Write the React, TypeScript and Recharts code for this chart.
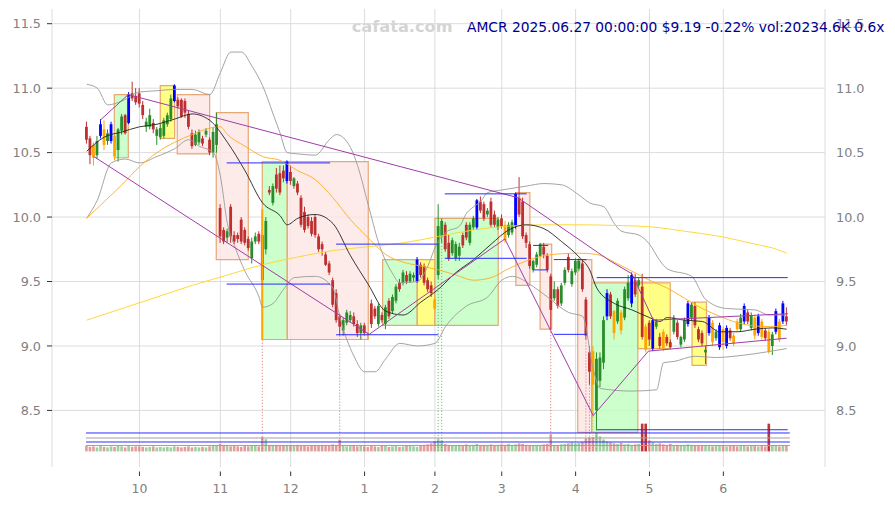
import React from 'react';
import { ComposedChart, Bar, Line, XAxis, YAxis, CartesianGrid, ReferenceArea, ReferenceLine } from 'recharts';

// ---------- data ----------
const open = [
  10.70,10.61,10.56,10.48,10.63,10.68,10.59,10.59,10.63,10.52,
  10.67,10.79,10.73,10.96,10.94,10.96,10.87,10.70,10.70,10.73,
  10.63,10.62,10.63,10.72,10.76,10.90,10.91,10.91,10.90,10.80,
  10.65,10.56,10.58,10.61,10.64,10.60,10.50,10.56,10.07,9.90,
  9.84,10.08,9.86,9.86,9.98,9.90,9.83,9.68,9.81,9.87,
  9.86,9.75,10.21,10.11,10.33,10.34,10.36,10.28,10.35,10.24,
  10.26,10.15,10.04,10.00,9.97,10.00,9.85,9.79,9.71,9.64,
  9.51,9.41,9.23,9.12,9.18,9.20,9.23,9.17,9.10,9.16,
  9.09,9.33,9.29,9.17,9.24,9.17,9.35,9.27,9.35,9.49,
  9.49,9.55,9.50,9.53,9.50,9.63,9.62,9.51,9.47,9.36,
  9.55,9.85,9.94,9.80,9.72,9.68,9.70,9.86,9.94,9.80,
  9.92,9.92,10.12,10.10,10.02,10.12,10.02,9.92,9.99,9.94,
  9.86,9.88,9.93,10.15,10.12,9.86,9.79,9.59,9.63,9.70,
  9.77,9.70,9.54,9.37,9.44,9.33,9.49,9.69,9.48,9.57,
  9.60,9.64,9.36,8.95,8.96,8.50,8.73,8.87,9.23,9.40,
  9.27,9.19,9.26,9.22,9.37,9.33,9.51,9.47,9.46,9.15,
  9.18,8.98,9.15,9.07,9.11,9.07,9.03,9.11,9.18,9.01,
  9.05,9.17,9.22,9.31,9.13,9.10,8.95,9.10,9.18,9.06,
  8.99,9.13,9.00,9.12,9.08,9.19,9.13,9.19,9.26,9.14,
  9.22,9.10,9.19,9.12,9.11,9.00,9.11,9.19,9.19,9.23,
];
const high = [
  10.74,10.63,10.58,10.63,10.76,10.75,10.68,10.74,10.64,10.69,
  10.80,10.80,10.97,11.05,11.00,11.00,10.90,10.77,10.84,10.76,
  10.70,10.72,10.77,10.81,10.95,11.03,10.93,10.92,10.92,10.83,
  10.68,10.67,10.68,10.63,10.69,10.62,10.70,10.81,10.10,9.92,
  9.91,10.10,9.89,9.88,10.00,9.92,9.85,9.84,9.88,9.89,
  9.89,10.00,10.24,10.26,10.38,10.40,10.40,10.44,10.40,10.31,
  10.28,10.17,10.08,10.02,10.00,10.02,9.87,9.81,9.73,9.66,
  9.53,9.44,9.25,9.22,9.28,9.27,9.26,9.20,9.18,9.18,
  9.11,9.36,9.31,9.33,9.26,9.32,9.37,9.40,9.48,9.52,
  9.59,9.58,9.58,9.57,9.69,9.65,9.64,9.53,9.50,9.37,
  10.10,9.99,9.96,9.86,9.84,9.81,9.80,9.88,9.96,9.96,
  10.01,10.14,10.16,10.12,10.07,10.15,10.05,10.00,10.02,9.97,
  9.96,9.98,10.19,10.31,10.15,9.88,9.81,9.67,9.73,9.80,
  9.80,9.72,9.56,9.50,9.46,9.49,9.61,9.72,9.60,9.68,
  9.68,9.67,9.38,9.00,9.00,8.95,8.95,9.23,9.44,9.42,
  9.28,9.37,9.28,9.46,9.55,9.57,9.56,9.53,9.56,9.17,
  9.20,9.22,9.21,9.10,9.13,9.09,9.05,9.24,9.20,9.08,
  9.22,9.35,9.34,9.34,9.15,9.12,9.00,9.24,9.20,9.13,
  9.18,9.15,9.16,9.14,9.10,9.21,9.25,9.33,9.28,9.26,
  9.24,9.25,9.21,9.14,9.13,9.11,9.29,9.21,9.35,9.30,
];
const low = [
  10.57,10.41,10.40,10.45,10.61,10.52,10.56,10.57,10.44,10.43,
  10.64,10.64,10.72,10.90,10.87,10.85,10.76,10.66,10.68,10.65,
  10.56,10.60,10.61,10.70,10.74,10.89,10.84,10.77,10.77,10.68,
  10.53,10.55,10.56,10.55,10.62,10.48,10.46,10.50,9.80,9.79,
  9.80,9.80,9.79,9.80,9.79,9.78,9.74,9.64,9.79,9.79,
  9.49,9.71,10.17,10.09,10.19,10.17,10.27,10.26,10.25,10.22,
  10.17,9.92,9.88,9.91,9.85,9.84,9.73,9.70,9.62,9.55,
  9.30,9.18,9.08,9.08,9.16,9.18,9.15,9.07,9.05,9.08,
  9.05,9.14,9.21,9.15,9.18,9.13,9.21,9.25,9.33,9.42,
  9.47,9.48,9.49,9.50,9.49,9.53,9.47,9.42,9.38,9.28,
  9.52,9.80,9.73,9.66,9.70,9.66,9.66,9.76,9.82,9.78,
  9.90,9.90,10.03,9.97,10.00,9.92,9.92,9.90,9.91,9.80,
  9.84,9.86,9.91,10.00,9.83,9.76,9.60,9.57,9.61,9.69,
  9.68,9.57,9.13,9.35,9.29,9.31,9.47,9.57,9.46,9.55,
  9.58,9.42,9.05,8.70,8.45,8.35,8.68,8.82,9.20,9.21,
  9.05,9.17,9.09,9.20,9.35,9.30,9.38,9.45,9.05,8.95,
  9.00,8.96,9.13,8.98,8.96,9.00,8.98,9.09,9.05,8.99,
  9.03,9.15,9.20,9.14,9.03,9.00,8.86,9.08,9.00,9.04,
  8.97,8.97,8.98,9.04,9.00,9.11,9.11,9.17,9.17,9.12,
  9.05,9.08,9.05,9.04,8.94,8.93,9.09,9.03,9.17,9.16,
];
const close = [
  10.60,10.48,10.46,10.59,10.72,10.56,10.65,10.72,10.47,10.68,
  10.78,10.65,10.95,10.92,10.89,10.88,10.79,10.74,10.79,10.68,
  10.68,10.69,10.75,10.79,10.92,11.02,10.86,10.78,10.81,10.70,
  10.55,10.64,10.66,10.57,10.67,10.50,10.66,10.72,9.85,9.81,
  9.89,9.85,9.81,9.83,9.81,9.80,9.76,9.81,9.85,9.81,
  9.51,9.97,10.19,10.24,10.22,10.19,10.30,10.43,10.28,10.30,
  10.19,9.94,9.90,9.93,9.87,9.86,9.75,9.75,9.63,9.57,
  9.32,9.20,9.15,9.20,9.26,9.24,9.17,9.10,9.16,9.10,
  9.08,9.17,9.23,9.31,9.20,9.30,9.23,9.38,9.46,9.44,
  9.57,9.50,9.56,9.55,9.67,9.55,9.49,9.44,9.41,9.29,
  9.93,9.97,9.75,9.68,9.82,9.79,9.77,9.78,9.84,9.94,
  9.99,10.13,10.05,9.99,10.05,9.94,9.94,9.98,9.93,9.82,
  9.94,9.96,10.18,10.02,9.85,9.80,9.62,9.66,9.71,9.79,
  9.71,9.59,9.28,9.44,9.31,9.47,9.59,9.59,9.58,9.66,
  9.66,9.44,9.08,8.80,8.70,8.90,8.91,9.20,9.41,9.23,
  9.10,9.35,9.12,9.44,9.49,9.55,9.40,9.51,9.07,8.97,
  9.05,9.20,9.19,9.00,8.98,9.02,8.99,9.22,9.07,9.07,
  9.20,9.33,9.32,9.16,9.05,9.02,8.97,9.22,9.03,9.11,
  9.16,9.03,9.14,9.06,9.02,9.13,9.22,9.31,9.19,9.24,
  9.08,9.23,9.07,9.06,8.96,9.09,9.27,9.05,9.33,9.19,
];
// r = down, g = up, b = blue signal, o = orange signal
const candleKind = (
  'rrogbogbog' + 'grbrrrrggr' + 'gggggbrrrr' + 'rggrgrggrr' + 'grrrrrrggr' +
  'rgrgrrrbrg' + 'rrrrrrrrrr' + 'rrrgggrrgr' + 'orrgrgrggr' + 'grggbrrrro' +
  'ggrrgggrrg' + 'gbrrgrrgro' + 'ggbrrrrggg' + 'rrrgrggrgg' + 'grrrogggbr' +
  'ogoggbrgro' + 'rbgrorrgrg' + 'gbgrrrgbog' + 'bobroogbrg' + 'oborogbobr'
).split('');
// volume, millions of shares
const volume = [
  22,18,20,16,22,18,16,20,18,22,20,16,24,18,20,
  20,18,16,18,20,16,18,16,18,16,20,18,16,18,20,16,18,16,18,16,20,22,24,
  30,26,22,20,22,20,18,22,20,24,22,20,57,49,26,24,26,22,24,26,
  22,24,26,22,24,20,22,24,22,26,22,24,28,26,47,22,20,24,22,20,22,
  20,18,22,20,18,24,22,18,20,22,18,20,24,22,20,18,24,26,28,32,
  40,49,44,30,26,24,22,26,24,28,22,26,30,24,26,22,28,24,26,
  28,26,30,24,28,32,30,26,24,22,26,24,28,30,67,26,24,28,30,32,36,
  32,34,38,52,56,58,73,60,48,40,36,32,30,34,28,30,26,28,30,111,111,
  44,36,30,32,28,26,30,24,26,22,24,28,26,24,22,26,24,22,20,24,22,
  22,20,24,22,20,22,24,20,22,24,20,22,20,111,24,22,20,24,22,
];
const dotRedIdx = [50, 72, 132, 142, 143];
const dotOrangeIdx = [144];
const dotGreenIdx = [100, 101, 145];

const monthTickIdx = [15, 38, 58, 79, 99, 118, 139, 160, 181];
const monthLabels = ['10', '11', '12', '1', '2', '3', '4', '5', '6'];
const priceTicks = [8.5, 9.0, 9.5, 10.0, 10.5, 11.0, 11.5];

const ma20 = [[0,10.51],[5,10.62],[10,10.66],[15,10.70],[20,10.72],[25,10.76],[30,10.80],[35,10.75],[40,10.58],[45,10.36],[50,10.11],[55,10.01],[57,9.94],[60,9.99],[65,10.02],[70,9.95],[75,9.70],[80,9.48],[85,9.27],[90,9.24],[95,9.34],[100,9.44],[105,9.57],[110,9.67],[115,9.79],[120,9.90],[125,9.94],[130,9.91],[135,9.81],[140,9.69],[143,9.59],[145,9.45],[150,9.33],[155,9.28],[160,9.22],[163,9.19],[165,9.22],[170,9.20],[175,9.19],[180,9.11],[185,9.11],[190,9.13],[195,9.14],[199,9.13]];
const ma50 = [[0,9.99],[5,10.12],[10,10.25],[15,10.39],[20,10.50],[25,10.58],[30,10.64],[35,10.69],[38,10.70],[40,10.64],[45,10.55],[50,10.47],[55,10.44],[60,10.36],[65,10.29],[70,10.15],[75,9.98],[80,9.84],[85,9.71],[90,9.65],[95,9.62],[100,9.59],[105,9.55],[110,9.51],[115,9.53],[120,9.60],[125,9.66],[130,9.70],[135,9.715],[140,9.72],[145,9.71],[150,9.65],[155,9.58],[160,9.51],[165,9.45],[170,9.37],[175,9.29],[180,9.23],[185,9.18],[190,9.155],[195,9.15],[199,9.16]];
const ma200 = [[0,9.20],[10,9.29],[20,9.38],[30,9.47],[40,9.55],[50,9.63],[60,9.69],[70,9.74],[80,9.77],[90,9.80],[100,9.85],[110,9.90],[120,9.93],[130,9.94],[140,9.94],[150,9.935],[160,9.925],[170,9.89],[180,9.85],[190,9.79],[195,9.76],[199,9.72]];
const bbUpper = [[0,11.03],[3,11.00],[6,10.87],[10,10.90],[15,10.97],[20,10.98],[25,10.99],[30,10.99],[35,10.95],[38,11.12],[41,11.28],[44,11.28],[47,11.17],[50,11.02],[53,10.80],[55,10.65],[57,10.50],[60,10.49],[65,10.48],[69,10.60],[71,10.64],[75,10.54],[77,10.40],[80,10.10],[83,9.80],[87,9.56],[89,9.49],[94,9.50],[97,9.62],[99,9.76],[102,9.88],[106,9.93],[108,10.03],[110,10.08],[112,10.12],[114,10.19],[118,10.21],[125,10.24],[130,10.26],[135,10.25],[140,10.17],[143,10.11],[147,10.08],[150,9.95],[152,9.89],[157,9.86],[160,9.79],[163,9.66],[165,9.60],[172,9.54],[176,9.36],[182,9.29],[190,9.28],[194,9.24],[199,9.24]];
const bbLower = [[0,9.99],[3,10.13],[7,10.42],[11,10.45],[15,10.42],[20,10.47],[25,10.53],[29,10.60],[32,10.55],[36,10.50],[38,10.32],[40,9.95],[42,9.78],[45,9.58],[49,9.38],[50,9.30],[53,9.33],[56,9.44],[59,9.53],[65,9.54],[70,9.45],[72,9.22],[76,8.92],[79,8.80],[82,8.80],[85,8.90],[89,9.02],[94,9.00],[99,9.02],[102,9.15],[108,9.31],[114,9.38],[118,9.51],[121,9.54],[127,9.46],[131,9.38],[137,9.26],[141,9.23],[144,8.82],[146,8.67],[155,8.65],[162,8.66],[164,8.87],[167,8.88],[173,8.92],[179,8.91],[184,8.92],[190,8.94],[199,8.98]];

// boxes: [fromIdx, toIdx, low, high, kind]
const boxes: [number, number, number, number, string][] = [
  [7.85, 11.83, 10.46, 10.95, 'g'],
  [20.92, 25.01, 10.61, 11.02, 'y'],
  [25.75, 34.96, 10.49, 10.95, 'p'],
  [36.84, 45.94, 9.67, 10.81, 'p'],
  [49.92, 57.02, 9.05, 10.43, 'g'],
  [57.02, 80.05, 9.05, 10.43, 'p'],
  [84.14, 93.97, 9.16, 9.67, 'g'],
  [93.97, 99.0, 9.16, 9.67, 'y'],
  [99.0, 117.0, 9.16, 9.99, 'g'],
  [122.0, 126.0, 9.47, 10.19, 'p'],
  [128.9, 132.2, 9.13, 9.79, 'p'],
  [139.6, 143.6, 8.33, 9.67, 'p'],
  [143.6, 156.7, 8.33, 9.49, 'g'],
  [156.7, 165.9, 8.98, 9.49, 'y'],
  [172.1, 176.2, 8.85, 9.34, 'y'],
];
const trendA = [[2, 10.47], [80.3, 9.09], [118.9, 9.83], [144, 8.46], [159.7, 8.96], [199, 9.06]];
const trendB = [[3.8, 10.75], [11.8, 10.95], [122.6, 10.15], [148.8, 9.66], [155, 9.56], [161.1, 9.20], [199.4, 9.25]];
// horizontal levels: [fromIdx, toIdx, price]
const levels = [
  [39.8, 69.2, 10.42], [39.8, 69.2, 9.48],
  [70.9, 100, 9.79], [70.9, 100, 9.087],
  [101.8, 125.1, 9.68], [101.8, 125.1, 10.18],
  [126.9, 131.2, 9.78], [126.9, 131.2, 9.59],
  [132.8, 142.1, 9.67], [132.8, 142.1, 9.09],
  [145, 199.3, 9.53], [145, 199.3, 8.35],
];
const volLevelsBlue = [8.325, 8.255];
const volLevelsGray = [8.286, 8.228];

// ---------- constants ----------
const VOL_BASE = 8.182;
const VOL_K = 1 / (4 * 128.9);
const KIND_COLOR: Record<string, string> = { r: '#bf2f2f', g: '#2a8c2a', b: '#0000ff', o: '#ffa500' };
const BOX_FILL: Record<string, string> = { g: '#bfffbf', p: '#fde6e4', y: '#ffff66' };
const FONT = 'DejaVu Sans, Verdana, sans-serif';

const rows: any[] = open.map((o, i) => ({
  i, o, h: high[i], l: low[i], c: close[i], kind: candleKind[i], vol: volume[i],
  dot: dotRedIdx.includes(i) ? '#d04545' : dotOrangeIdx.includes(i) ? '#ffa500' : dotGreenIdx.includes(i) ? '#3aa03a' : null,
  ma20: null, ma50: null, ma200: null, bbu: null, bbl: null,
}));
ma20.forEach(([k, v]) => { rows[k].ma20 = v; });
ma50.forEach(([k, v]) => { rows[k].ma50 = v; });
ma200.forEach(([k, v]) => { rows[k].ma200 = v; });
bbUpper.forEach(([k, v]) => { rows[k].bbu = v; });
bbLower.forEach(([k, v]) => { rows[k].bbl = v; });

function CandleShape(props: any) {
  const { x, y, width, height, payload } = props;
  if (!payload || !(height > 0)) return <g />;
  const { o, h, l, c, kind, vol, dot } = payload;
  const k = height / (h - l);
  const py = (v: number) => y + (h - v) * k;
  const cx = x + width / 2;
  const color = KIND_COLOR[kind];
  const top = py(Math.max(o, c));
  const bot = py(Math.min(o, c));
  const vb = py(VOL_BASE);
  const vt = py(VOL_BASE + vol * VOL_K);
  const volFill = vol >= 100 ? '#c23434' : c < o ? 'rgba(205,90,90,0.6)' : 'rgba(80,165,80,0.55)';
  return (
    <g>
      {dot && <line x1={cx} x2={cx} y1={py(l)} y2={vb} stroke={dot} strokeWidth={0.8} strokeDasharray="1 2" />}
      <rect x={cx - 1.3} y={vt} width={2.6} height={vb - vt} fill={volFill} />
      <line x1={cx} x2={cx} y1={y} y2={y + height} stroke={color} strokeWidth={1} />
      <rect x={cx - 1.4} y={top} width={2.8} height={Math.max(1, bot - top)} fill={color} />
    </g>
  );
}

function XTick(props: any) {
  const { x, y, payload } = props;
  const idx = monthTickIdx.indexOf(payload.value);
  return (
    <g>
      <line x1={x} x2={x} y1={y + 4.5} y2={y + 9} stroke="#333" strokeWidth={1} />
      <text x={x} y={y + 25.5} textAnchor="middle" fill="#808080" fontSize={12.5} fontFamily={FONT}>
        {monthLabels[idx]}
      </text>
    </g>
  );
}

export default function App() {
  return (
    <div style={{ position: 'absolute', left: 0, top: 0, width: 895, height: 505, background: '#fff' }}>
      <svg width={895} height={505} style={{ position: 'absolute', left: 0, top: 0 }}>
        <text x={351.7} y={31.5} fontFamily={FONT} fontWeight="bold" fontSize={16.2} fill="#d4d4d4">cafata.com</text>
      </svg>
      <div style={{ position: 'absolute', left: 0, top: 0 }}>
        <ComposedChart width={895} height={505} data={rows} margin={{ top: 9, right: 0, bottom: 0, left: 0 }}>
          <CartesianGrid stroke="#dcdcdc" strokeWidth={1} horizontalValues={priceTicks} />
          <XAxis
            dataKey="i" type="number" domain={[-9.86, 209.9]} allowDataOverflow ticks={monthTickIdx}
            height={38} axisLine={false} tickLine={false} tickSize={0} tickMargin={0} tick={<XTick />} interval={0}
          />
          <YAxis
            domain={[8.061, 11.614]} allowDataOverflow ticks={priceTicks} width={52} axisLine={false}
            tickSize={5} tickMargin={6} tickLine={{ stroke: '#333' }} interval={0}
            tickFormatter={(v: number) => v.toFixed(1)}
            tick={{ fill: '#808080', fontSize: 12.8, fontFamily: FONT }}
          />
          <YAxis
            yAxisId="right" orientation="right" domain={[8.061, 11.614]} allowDataOverflow ticks={priceTicks}
            width={70} axisLine={false} tickLine={false} tickSize={0} tickMargin={11} interval={0}
            tickFormatter={(v: number) => v.toFixed(1)}
            tick={{ fill: '#808080', fontSize: 12.8, fontFamily: FONT }}
          />
          {boxes.map(([a, b, lo, hi, kind], n) => (
            <ReferenceArea key={'box' + n} x1={a} x2={b} y1={lo} y2={hi} fill={BOX_FILL[kind]} fillOpacity={0.8}
              stroke="#e3a066" strokeWidth={1.2} strokeOpacity={0.9} ifOverflow="visible" />
          ))}
          <ReferenceLine segment={[{ x: 49.92, y: 10.06 }, { x: 49.92, y: 9.05 }]} stroke="#ffa500" strokeWidth={2} />
          <Line dataKey="bbu" stroke="#9a9a9a" strokeWidth={0.9} dot={false} connectNulls type="monotone" isAnimationActive={false} />
          <Line dataKey="bbl" stroke="#9a9a9a" strokeWidth={0.9} dot={false} connectNulls type="monotone" isAnimationActive={false} />
          <Line dataKey="ma200" stroke="#ffd426" strokeWidth={0.9} dot={false} connectNulls type="monotone" isAnimationActive={false} />
          <Line dataKey="ma50" stroke="#ffab1f" strokeWidth={0.9} dot={false} connectNulls type="monotone" isAnimationActive={false} />
          <Line dataKey="ma20" stroke="#222" strokeWidth={0.9} dot={false} connectNulls type="monotone" isAnimationActive={false} />
          <Bar dataKey={(d: any) => [d.l, d.h]} shape={(p: any) => <CandleShape {...p} />} barSize={3} isAnimationActive={false} />
          {trendA.slice(1).map((pt, n) => (
            <ReferenceLine key={'ta' + n} segment={[{ x: trendA[n][0], y: trendA[n][1] }, { x: pt[0], y: pt[1] }]} stroke="#a23ca8" strokeWidth={1} />
          ))}
          {trendB.slice(1).map((pt, n) => (
            <ReferenceLine key={'tb' + n} segment={[{ x: trendB[n][0], y: trendB[n][1] }, { x: pt[0], y: pt[1] }]} stroke="#a23ca8" strokeWidth={1} />
          ))}
          {levels.map(([a, b, v], n) => (
            <ReferenceLine key={'lv' + n} segment={[{ x: a, y: v }, { x: b, y: v }]} stroke="#2a2aff" strokeWidth={1} />
          ))}
          {volLevelsBlue.map((v, n) => (
            <ReferenceLine key={'vb' + n} segment={[{ x: -0.2, y: v }, { x: 199.9, y: v }]} stroke="#3030ff" strokeWidth={1} />
          ))}
          {volLevelsGray.map((v, n) => (
            <ReferenceLine key={'vg' + n} segment={[{ x: -0.2, y: v }, { x: 199.9, y: v }]} stroke="#a0a0a0" strokeWidth={1} />
          ))}
        </ComposedChart>
      </div>
      <svg width={895} height={505} style={{ position: 'absolute', left: 0, top: 0, pointerEvents: 'none' }}>
        <text x={467} y={31.5} fontFamily={FONT} fontSize={13.8} fill="#00008f">
          AMCR 2025.06.27 00:00:00 $9.19 -0.22% vol:20234.6K 0.6x
        </text>
      </svg>
    </div>
  );
}
